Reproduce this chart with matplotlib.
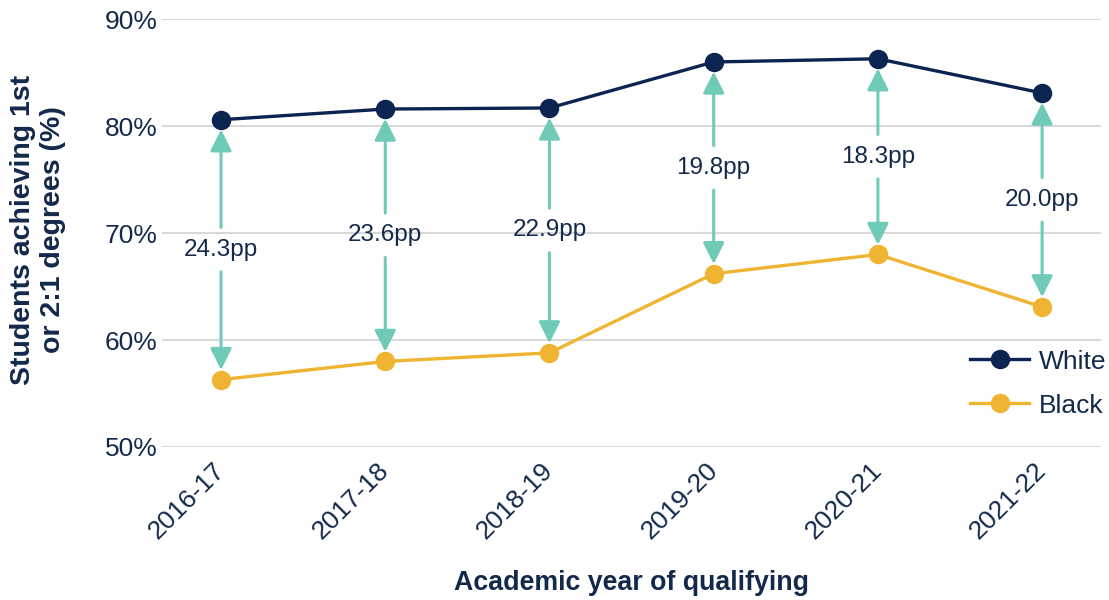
import numpy as np
import matplotlib
matplotlib.use("Agg")
import matplotlib.pyplot as plt

plt.rcParams["font.family"] = ["Liberation Sans", "DejaVu Sans"]

years = ["2016-17", "2017-18", "2018-19", "2019-20", "2020-21", "2021-22"]
white = [80.6, 81.6, 81.7, 86.0, 86.3, 83.1]
black = [56.3, 58.0, 58.8, 66.2, 68.0, 63.1]
gaps = ["24.3pp", "23.6pp", "22.9pp", "19.8pp", "18.3pp", "20.0pp"]

NAVY = "#0b2452"
GOLD = "#f0b433"
TEAL = "#6fcbb8"
TXT = "#13294b"

fig = plt.figure(figsize=(11.09, 6.0), dpi=100)
ax = fig.add_axes([0.146, 0.255, 0.847, 0.713])
x = np.arange(len(years))

ax.plot(x, white, color=NAVY, lw=2.4, marker="o", ms=13, label="White", zorder=3)
ax.plot(x, black, color=GOLD, lw=2.4, marker="o", ms=13, label="Black", zorder=3)

# gap arrows: two halves leaving room for the label in the middle
astyle = "-|>,head_length=1.3,head_width=0.65"
for xi, w, b, g in zip(x, white, black, gaps):
    mid = (w + b) / 2
    for end in (w, b):
        ax.annotate("", xy=(xi, end), xytext=(xi, mid),
                    arrowprops=dict(arrowstyle=astyle, color=TEAL, lw=2.2,
                                    shrinkA=16, shrinkB=7),
                    zorder=2)
    ax.text(xi, mid, g, ha="center", va="center", fontsize=17.5, color=TXT, zorder=4)

ax.set_xlim(-0.36, 5.36)
ax.set_ylim(50, 90)
ax.set_yticks([50, 60, 70, 80, 90])
ax.set_yticklabels([f"{v}%" for v in [50, 60, 70, 80, 90]])
ax.set_xticks(x)
ax.set_xticklabels(years, rotation=45, ha="right", va="center", rotation_mode="anchor")
ax.tick_params(axis="both", length=0, labelsize=19, labelcolor=TXT)
ax.tick_params(axis="y", pad=3)
ax.tick_params(axis="x", pad=14)
ax.grid(axis="y", color="#d9d9d9", lw=1.5)
ax.set_axisbelow(True)
for s in ax.spines.values():
    s.set_visible(False)

fig.text(38 / 1109, 1 - 230 / 600, "Students achieving 1st\nor 2:1 degrees (%)",
         rotation=90, ha="center", va="center", multialignment="center",
         fontsize=20.5, fontweight="bold", color=TXT)
fig.text(631 / 1109, 1 - 583 / 600, "Academic year of qualifying",
         ha="center", va="center", fontsize=19.3, fontweight="bold", color=TXT)

leg = ax.legend(loc="lower right", bbox_to_anchor=(1.031, 0.013), frameon=False,
                fontsize=19, handlelength=2.2, labelspacing=0.76, handletextpad=0.4)
for t in leg.get_texts():
    t.set_color(TXT)

fig.savefig("out.png", dpi=100)
